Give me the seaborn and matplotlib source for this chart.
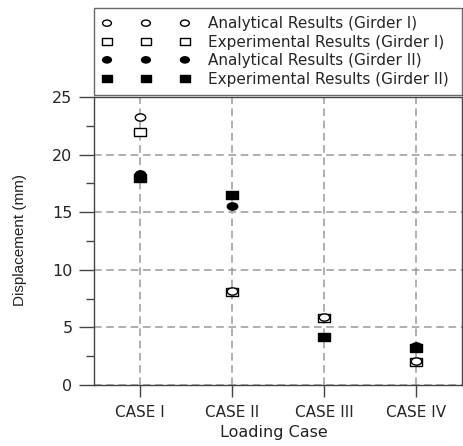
import numpy as np
import pandas as pd
import matplotlib
matplotlib.use("Agg")
import matplotlib.pyplot as plt
from matplotlib.path import Path
from matplotlib.markers import MarkerStyle
from matplotlib.ticker import MultipleLocator
import seaborn as sns

# ---- data -------------------------------------------------------------
cases = ["CASE I", "CASE II", "CASE III", "CASE IV"]
analytical_g1 = [23.3, 8.2, 5.9, 2.1]
experimental_g1 = [22.0, 8.1, 5.8, 2.0]
analytical_g2 = [18.3, 15.5, 4.2, 3.4]
experimental_g2 = [18.0, 16.5, 4.2, 3.2]

series_labels = [
    "Analytical Results (Girder I)",
    "Experimental Results (Girder I)",
    "Analytical Results (Girder II)",
    "Experimental Results (Girder II)",
]
y_ticks = [0, 5, 10, 15, 20, 25]

# ---- style ------------------------------------------------------------
sns.set_style("white")
plt.rcParams["font.family"] = ["DejaVu Sans"]
axis_grey = "#444444"

# slightly flattened circle and square marker shapes
_circ = Path.unit_circle()
ellipse_marker = MarkerStyle(Path(_circ.vertices * np.array([1.0, 0.70]), _circ.codes))
rect_marker = MarkerStyle(Path([(-1.0, -0.76), (1.0, -0.76), (1.0, 0.76),
                                (-1.0, 0.76), (-1.0, -0.76)], closed=True))

fig = plt.figure(figsize=(4.63, 4.46), dpi=100)
ax = fig.add_axes([94 / 463, 1 - 385 / 446, 368 / 463, 288 / 446])

def frame(vals, label):
    return pd.DataFrame({"case": cases, "disp": vals, "series": label})

specs = [
    # values, label, marker, face, size, z
    (experimental_g1, series_labels[1], rect_marker, "white", 66, 3),
    (analytical_g1, series_labels[0], ellipse_marker, "white", 56, 4),
    (analytical_g2, series_labels[2], ellipse_marker, "black", 56, 5),
    (experimental_g2, series_labels[3], rect_marker, "black", 66, 6),
]
for vals, label, mk, face, size, z in specs:
    sns.scatterplot(data=frame(vals, label), x="case", y="disp", ax=ax,
                    marker=mk, s=size, facecolor=face, edgecolor="black",
                    linewidth=1.0, label=label, zorder=z, legend=False)

# ---- axes -------------------------------------------------------------
ax.set_xlim(-0.5, 3.5)
ax.set_ylim(0, 25)
ax.set_yticks(y_ticks)
ax.yaxis.set_minor_locator(MultipleLocator(2.5))
ax.set_axisbelow(True)
ax.grid(True, which="major", linestyle=(0, (5, 3)), color="#9a9a9a", linewidth=1.1)

for sp in ax.spines.values():
    sp.set_visible(True)
    sp.set_color(axis_grey)
    sp.set_linewidth(1.0)

ax.tick_params(axis="y", which="major", direction="out", length=10.5, width=1.0,
               color=axis_grey, labelsize=11.5, pad=5, left=True)
ax.tick_params(axis="y", which="minor", direction="out", length=5.5, width=1.0,
               color=axis_grey, left=True)
ax.tick_params(axis="x", which="major", direction="out", length=8.5, width=1.0,
               color=axis_grey, labelsize=11, pad=6, bottom=True)

ax.set_xlabel("Loading Case", fontsize=11.5, color="#222222")
ax.xaxis.set_label_coords(0.488, -0.138)
ax.set_ylabel("Displacement (mm)", fontsize=11, color="#222222",
              family=["Liberation Sans", "DejaVu Sans"])
ax.yaxis.set_label_coords(-0.182, 0.505)

# ---- legend -----------------------------------------------------------
handles, labels = ax.get_legend_handles_labels()
order = [labels.index(l) for l in series_labels]
leg = ax.legend([handles[i] for i in order], [labels[i] for i in order],
                loc="lower left", bbox_to_anchor=(0.0, 1.007, 1.0, 0.3),
                mode="expand", borderaxespad=0.0, ncol=1,
                scatterpoints=3, scatteryoffsets=[0.5], markerscale=0.85,
                handlelength=5.7, handletextpad=1.2, borderpad=0.55,
                labelspacing=0.22, fontsize=11, frameon=True, fancybox=False)
leg.get_frame().set_edgecolor(axis_grey)
leg.get_frame().set_linewidth(1.0)
leg.set_zorder(10)

fig.savefig("out.png", dpi=100)
